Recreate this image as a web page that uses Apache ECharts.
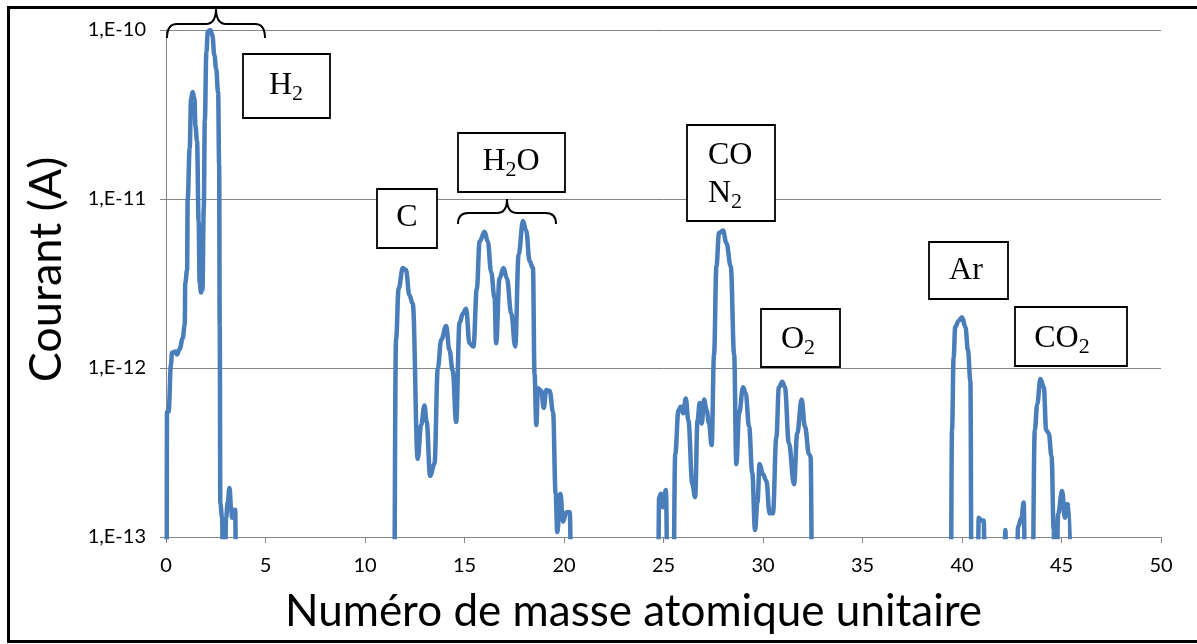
<!DOCTYPE html>
<html><head><meta charset="utf-8">
<script src="https://cdn.jsdelivr.net/npm/echarts@6/dist/echarts.min.js"></script>
<style>html,body{margin:0;padding:0;background:#fff}#c{width:1197px;height:644px}</style>
</head><body><div id="c"></div>
<script>
// value used for readings that fall below the visible axis minimum (off-scale)
const F = 1e-14;

const massH2 = [0.03,0.05,0.13,0.25,0.30,0.47,0.55,0.69,0.84,0.94,0.97,1.06,1.09,1.19,1.26,1.34,1.43,1.48,1.56,1.64,1.69,1.76,1.83,1.90,1.95,2.03,2.10,2.23,2.33,2.43,2.52,2.62,2.67,2.70,2.73,2.82,2.90,3.02,3.10,3.19,3.27,3.32,3.40,3.48,3.54];
const currentH2 = [F,5.5e-13,5.5e-13,1.05e-12,1.23e-12,1.25e-12,1.2e-12,1.3e-12,1.5e-12,1.8e-12,3.2e-12,3.8e-12,1.0e-11,2.0e-11,3.9e-11,4.3e-11,3.9e-11,2.7e-11,2.2e-11,7.4e-12,3.2e-12,2.8e-12,2.9e-12,8.9e-12,2.9e-11,7.4e-11,9.8e-11,1.0e-10,9.3e-11,7.1e-11,5.9e-11,4.25e-11,1.6e-11,1.8e-12,1.58e-13,1.3e-13,F,1.3e-13,1.6e-13,1.95e-13,1.5e-13,1.3e-13,1.4e-13,1.45e-13,F];

const massCH2O = [11.43,11.56,11.69,11.90,12.06,12.23,12.40,12.65,12.82,12.99,13.10,13.27,13.49,13.66,13.83,14.08,14.24,14.41,14.58,14.75,14.92,15.08,15.25,15.45,15.62,15.76,16.01,16.17,16.34,16.51,16.59,16.76,16.96,17.13,17.35,17.55,17.72,17.94,18.10,18.27,18.44,18.52,18.61,18.69,18.86,18.98,19.11,19.28,19.45,19.58,19.66,19.82,19.95,20.12,20.29,20.42];
const currentCH2O = [F,1.47e-12,2.95e-12,3.9e-12,3.8e-12,2.7e-12,2.4e-12,2.9e-13,4.6e-13,6.0e-13,4.8e-13,2.3e-13,2.7e-13,1.0e-12,1.47e-12,1.77e-12,1.28e-12,9.6e-13,4.8e-13,1.85e-12,2.1e-12,2.24e-12,1.4e-12,1.34e-12,2.95e-12,5.6e-12,6.4e-12,5.6e-12,3.7e-12,2.6e-12,1.4e-12,3.4e-12,3.9e-12,3.4e-12,2.1e-12,1.34e-12,4.7e-12,7.4e-12,6.5e-12,4.3e-12,3.9e-12,9.2e-13,4.6e-13,7.6e-13,7.3e-13,5.8e-13,7.4e-13,7.3e-13,5.5e-13,1.8e-13,1.07e-13,1.8e-13,1.23e-13,1.4e-13,1.4e-13,F];

const massCOO2 = [24.70,24.78,24.87,24.98,25.12,25.25,25.45,25.59,25.75,25.87,25.99,26.12,26.25,26.45,26.59,26.71,26.82,26.92,27.04,27.17,27.29,27.42,27.54,27.66,27.79,27.99,28.16,28.38,28.55,28.66,28.80,29.00,29.13,29.30,29.46,29.60,29.72,29.83,30.00,30.17,30.33,30.50,30.67,30.80,30.97,31.10,31.30,31.56,31.72,31.94,32.11,32.31,32.39,32.51];
const currentCOO2 = [F,1.72e-13,1.8e-13,1.5e-13,1.9e-13,F,F,3.1e-13,5.6e-13,5.9e-13,5.4e-13,6.6e-13,4.9e-13,2.05e-13,1.72e-13,4.9e-13,6.2e-13,4.7e-13,6.5e-13,5.6e-13,4.7e-13,3.5e-13,1.2e-12,4.0e-12,6.3e-12,6.5e-12,5.5e-12,4.0e-12,1.2e-12,2.7e-13,5.4e-13,7.7e-13,7.1e-13,4.5e-13,2.4e-13,1.1e-13,1.6e-13,2.7e-13,2.35e-13,2.15e-13,1.38e-13,1.38e-13,3.9e-13,7.7e-13,8.3e-13,7.7e-13,3.6e-13,2.05e-13,4.1e-13,6.5e-13,4.5e-13,3.1e-13,3.0e-13,F];

const massArCO2 = [39.41,39.50,39.58,39.66,39.83,40.00,40.17,40.30,40.42,40.50,40.76,40.84,40.97,41.09,41.21,42.05,42.18,42.27,42.68,42.82,42.99,43.10,43.22,43.49,43.66,43.78,43.94,44.11,44.23,44.36,44.50,44.61,44.70,44.83,45.03,45.17,45.29,45.40,45.54];
const currentArCO2 = [F,4.3e-13,1.16e-12,1.75e-12,1.9e-12,2.0e-12,1.75e-12,1.27e-12,8.4e-13,F,F,1.3e-13,1.25e-13,1.25e-13,F,F,1.1e-13,F,F,1.15e-13,1.3e-13,1.6e-13,F,F,4.3e-13,6.1e-13,8.6e-13,7.7e-13,4.3e-13,4.1e-13,3.0e-13,1.1e-13,F,1.37e-13,1.87e-13,1.3e-13,1.57e-13,1.5e-13,F];

const xTicks = [0,5,10,15,20,25,30,35,40,45,50];
const yTickValues = [1e-13,1e-12,1e-11,1e-10];
const yTickLabels = ['1,E-13','1,E-12','1,E-11','1,E-10'];
const xTitle = 'Numéro de masse atomique unitaire';
const yTitle = 'Courant (A)';

const mass = [].concat(massH2, massCH2O, massCOO2, massArCO2);
const current = [].concat(currentH2, currentCH2O, currentCOO2, currentArCO2);
const points = mass.map((m, i) => [m, current[i]]);

const serif = "'Liberation Serif','DejaVu Serif',serif";
const sans = "Lato,'Open Sans',sans-serif";
const rich = {
  m: {fontSize: 32, fontFamily: serif, fill: '#000', lineHeight: 38, verticalAlign: 'middle'},
  s: {fontSize: 22, fontFamily: serif, fill: '#000', lineHeight: 30, verticalAlign: 'bottom'}
};
function box(x, y, w, h) {
  return {type: 'rect', z: 100, silent: true, shape: {x: x, y: y, width: w, height: h},
    style: {fill: '#fff', stroke: '#000', lineWidth: 1.8}};
}
function label(x, y, text, align) {
  return {type: 'text', z: 101, silent: true, x: x, y: y,
    style: {text: text, rich: rich, align: align || 'center', verticalAlign: 'middle'}};
}
const braceStyle = {fill: 'none', stroke: '#000', lineWidth: 2};
function curve(x1, y1, cx, cy, x2, y2) {
  return {type: 'bezierCurve', z: 100, silent: true,
    shape: {x1: x1, y1: y1, x2: x2, y2: y2, cpx1: cx, cpy1: cy}, style: braceStyle};
}
function seg(x1, y1, x2, y2) {
  return {type: 'line', z: 100, silent: true, shape: {x1: x1, y1: y1, x2: x2, y2: y2}, style: braceStyle};
}
function brace(x1, x2, yTip, yBar, yEnd) {
  const xm = (x1 + x2) / 2, r = 10;
  return [
    curve(x1, yEnd, x1, yBar, x1 + r, yBar),
    seg(x1 + r, yBar, xm - r, yBar),
    curve(xm - r, yBar, xm, yBar, xm, yTip),
    curve(xm, yTip, xm, yBar, xm + r, yBar),
    seg(xm + r, yBar, x2 - r, yBar),
    curve(x2 - r, yBar, x2, yBar, x2, yEnd)
  ];
}

const chart = echarts.init(document.getElementById('c'));
chart.setOption({
  animation: false,
  backgroundColor: '#fff',
  grid: {left: 166, right: 36, top: 30, bottom: 107},
  xAxis: {
    type: 'value', min: 0, max: 50, interval: 5,
    name: xTitle, nameLocation: 'middle', nameGap: 53,
    nameTextStyle: {fontSize: 44, fontFamily: sans, color: '#000', padding: [0, 60, 0, 0]},
    axisLine: {show: true, lineStyle: {color: '#868686', width: 1}},
    axisTick: {show: true, length: 6, lineStyle: {color: '#868686'}},
    axisLabel: {fontSize: 20, fontFamily: sans, color: '#000', margin: 19,
      formatter: v => xTicks.indexOf(v) >= 0 ? String(v) : ''},
    splitLine: {show: false}
  },
  yAxis: {
    type: 'log', logBase: 10, min: 1e-13, max: 1e-10,
    name: yTitle, nameLocation: 'middle', nameGap: 97, nameRotate: 90,
    nameTextStyle: {fontSize: 45, fontFamily: sans, color: '#000', padding: [0, 0, 0, 28]},
    axisLine: {show: true, lineStyle: {color: '#868686', width: 1}},
    axisTick: {show: true, length: 6, lineStyle: {color: '#868686'}},
    axisLabel: {fontSize: 20, fontFamily: sans, color: '#000', margin: 20,
      formatter: v => {
        const i = yTickValues.findIndex(t => Math.abs(Math.log10(t) - Math.log10(v)) < 1e-6);
        return i >= 0 ? yTickLabels[i] : '';
      }},
    splitLine: {show: true, lineStyle: {color: '#868686', width: 1}}
  },
  series: [{
    type: 'line', data: points, showSymbol: false, clip: true,
    smooth: 0.4, smoothMonotone: 'x',
    lineStyle: {color: '#4A7EBB', width: 4.5, join: 'round', cap: 'round'}
  }],
  graphic: [
    {type: 'rect', z: 0, silent: true, shape: {x: 8.5, y: 7.5, width: 1200, height: 634},
      style: {fill: 'none', stroke: '#000', lineWidth: 3}}
  ].concat(
    brace(167, 265, 8, 24, 38),
    brace(458, 556, 199, 213, 224),
    [
      box(243, 54, 87, 64), label(286, 86, '{m|H}{s|2}'),
      box(377, 189, 60, 59), label(407, 218, '{m|C}'),
      box(458, 133, 107, 59), label(511, 162, '{m|H}{s|2}{m|O}'),
      box(687, 125, 88, 96), label(708, 175, '{m|CO}\n{m|N}{s|2}', 'left'),
      box(761, 309, 79, 58), label(798, 340, '{m|O}{s|2}'),
      box(929, 242, 79, 57), label(966, 271, '{m|Ar}'),
      box(1015, 307, 112, 59), label(1062, 339, '{m|CO}{s|2}')
    ])
});
</script></body></html>
